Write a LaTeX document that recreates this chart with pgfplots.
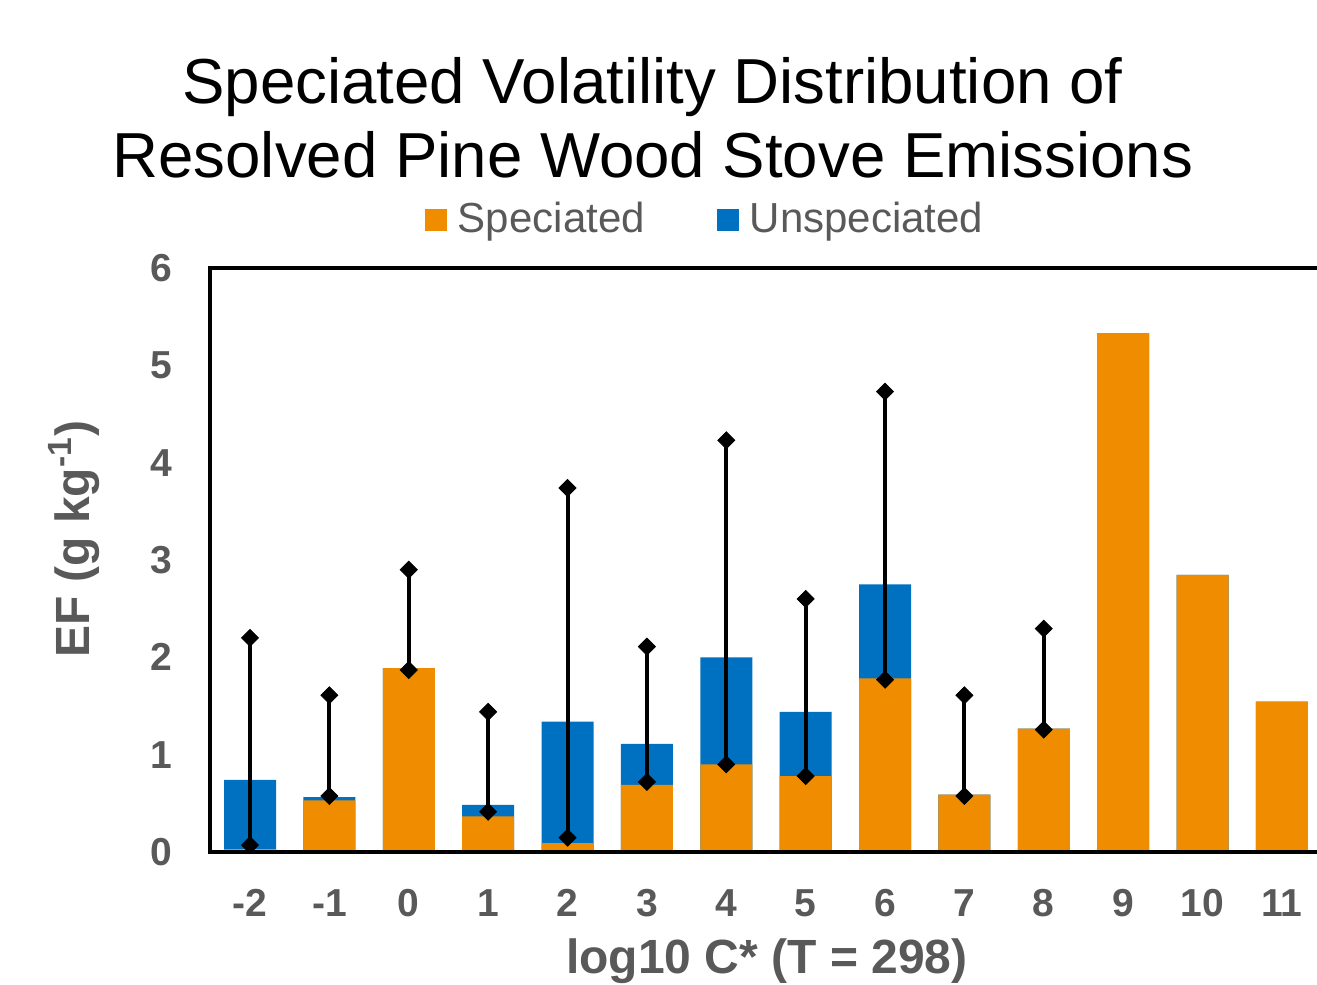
\documentclass[border=0pt]{standalone}
\usepackage{pgfplots}
\usepackage{pgfplotstable}
\pgfplotsset{compat=1.18}
\usepackage{fontspec}
\setmainfont{Liberation Sans}
\definecolor{spec}{RGB}{240,140,0}
\definecolor{unspec}{RGB}{0,112,192}
\definecolor{txtgray}{RGB}{89,89,89}

\pgfplotstableread{
x spec unspec
-2 0.03 0.71
-1 0.53 0.035
0 1.89 0.0
1 0.367 0.116
2 0.09 1.25
3 0.69 0.42
4 0.90 1.10
5 0.78 0.66
6 1.785 0.965
7 0.59 0.0
8 1.268 0.0
9 5.33 0.0
10 2.846 0.0
11 1.545 0.0
}\bars

\pgfplotstableread{
x lo hi
-2 0.07 2.20
-1 0.575 1.61
0 1.87 2.90
1 0.414 1.44
2 0.147 3.74
3 0.72 2.11
4 0.90 4.23
5 0.78 2.60
6 1.77 4.73
7 0.575 1.61
8 1.257 2.295
}\errs

\begin{document}
\begin{tikzpicture}
\useasboundingbox (-105pt,-66.5pt) rectangle (553.5pt,426pt);
\begin{axis}[
  at={(0,0)}, anchor=south west,
  scale only axis, width=553.5pt, height=292pt,
  xmin=-2.504, xmax=11.442, ymin=0, ymax=6,
  axis line style={draw=none}, major tick length=0pt,
  xtick={-2,-1,0,1,2,3,4,5,6,7,8,9,10,11},
  xticklabels={-2,-1,0,1,2,3,4,5,6,7,8,9,10,11},
  ytick={0,1,2,3,4,5,6},
  /pgf/number format/assume math mode=true,
  tick label style={font=\fontsize{19.5}{23}\selectfont\bfseries, text=txtgray},
  xticklabel style={anchor=north, inner sep=0pt, yshift=-18.5pt},
  yticklabel style={anchor=east, inner sep=0pt, xshift=-18.5pt},
  clip=false,
  legend style={at={(axis description cs:0.1942,1.0840)}, anchor=west,
    draw=none, fill=none, inner sep=0pt, outer sep=0pt,
    font=\fontsize{21}{25}\selectfont, text=txtgray,
    nodes={inner sep=0pt},
    /tikz/every odd column/.append style={column sep=5.5pt},
    /tikz/every even column/.append style={column sep=36pt}},
  legend columns=2,
  legend cell align=left,
  legend image code/.code={\fill[#1] (0pt,-6pt) rectangle (11pt,5pt);},
]
\addlegendimage{fill=spec, draw=none}
\addlegendentry{Speciated}
\addlegendimage{fill=unspec, draw=none}
\addlegendentry{Unspeciated}

\addplot[ybar, bar width=26pt, bar shift=0pt, fill=unspec, draw=none, forget plot]
  table[x=x, y expr=\thisrow{spec}+\thisrow{unspec}] {\bars};
\addplot[ybar, bar width=26pt, bar shift=0pt, fill=spec, draw=none, forget plot]
  table[x=x, y=spec] {\bars};

\addplot[only marks, mark=square*, mark size=3pt,
  mark options={rotate=45, fill=black, draw=black, line width=0.4pt},
  forget plot,
  error bars/.cd, y dir=plus, y explicit, error mark=none,
  error bar style={line width=2pt, black}]
  table[x=x, y=lo, y error expr=\thisrow{hi}-\thisrow{lo}] {\errs};
\addplot[only marks, mark=square*, mark size=3pt,
  mark options={rotate=45, fill=black, draw=black, line width=0.4pt},
  forget plot]
  table[x=x, y=hi] {\errs};

\draw[line width=1.75pt] (rel axis cs:1.05,1) -- (rel axis cs:0,1) -- (rel axis cs:0,0) -- (rel axis cs:1.05,0);

\node[anchor=base, font=\fontsize{31.8}{38}\selectfont] at (axis description cs:0.3997,1.2825) {Speciated Volatility Distribution of};
\node[anchor=base, font=\fontsize{31.8}{38}\selectfont] at (axis description cs:0.400,1.1558) {Resolved Pine Wood Stove Emissions};
\node[anchor=base, font=\fontsize{24}{29}\selectfont\bfseries, text=txtgray] at (axis description cs:0.503,-0.2072) {log10 C* (T = 298)};
\node[anchor=base, rotate=90, font=\fontsize{24}{29}\selectfont\bfseries, text=txtgray] at (axis description cs:-0.1084,0.536) {EF (g kg\textsuperscript{-1})};
\end{axis}
\end{tikzpicture}
\end{document}
